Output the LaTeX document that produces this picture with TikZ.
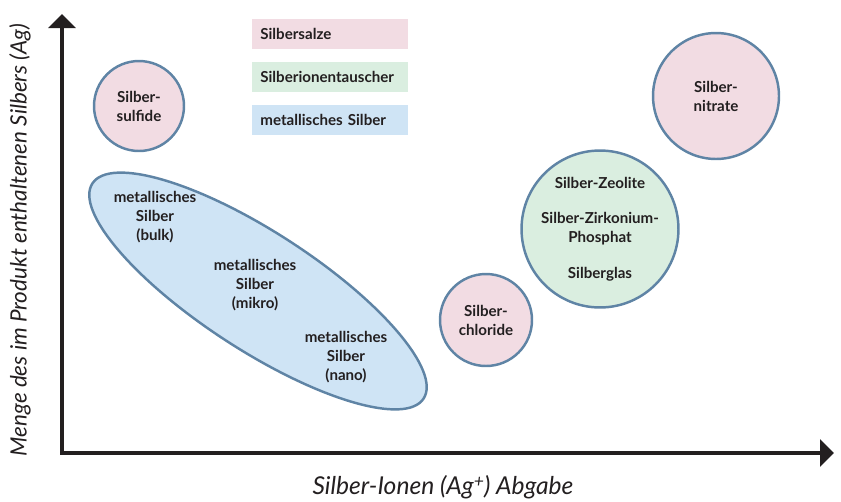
\documentclass[tikz,border=0pt]{standalone}
\usepackage{fontspec}
\setmainfont{Lato}
\usetikzlibrary{shapes.geometric,arrows.meta}
\definecolor{ink}{HTML}{231F20}
\definecolor{rand}{HTML}{5F84A5}
\definecolor{salze}{HTML}{F2DCE3}
\definecolor{tauscher}{HTML}{DAEEE0}
\definecolor{metall}{HTML}{CFE4F5}
\tikzset{
  axis/.style={draw=ink, line width=2.8pt,
    {Triangle[length=0.28cm,width=0.54cm]}-{Triangle[length=0.28cm,width=0.54cm]}},
  blob/.style={circle, draw=rand, line width=1.4pt, inner sep=0pt,
    align=center, text=ink, font=\bfseries\fontsize{8.6}{10.8}\selectfont},
  label/.style={align=center, text=ink, font=\bfseries\fontsize{8.6}{10.8}\selectfont},
  legendbox/.style={rectangle, anchor=west, minimum width=3.12cm, minimum height=0.6cm,
    text width=2.8cm, inner xsep=0.16cm, align=left, text=ink,
    font=\bfseries\fontsize{8.6}{10.8}\selectfont},
  axislabel/.style={text=ink, font=\itshape\fontsize{12.8}{15}\selectfont}
}
\begin{document}
\begin{tikzpicture}[x=0.02cm, y=-0.02cm]
  \useasboundingbox (0,0) rectangle (841,501);

  % axes
  \coordinate (origin) at (62,453);
  \coordinate (ytip) at (62,14);
  \coordinate (xtip) at (834,453);
  \draw[axis] (ytip) -- (origin) -- (xtip);
  \node[axislabel, rotate=90] (ylabel) at (20,240) {Menge des im Produkt enthaltenen Silbers (Ag)};
  \node[axislabel, font=\itshape\fontsize{14}{16}\selectfont] (xlabel) at (443,487)
    {Silber-Ionen (Ag\raisebox{0.55ex}{\fontsize{10}{10}\selectfont +}) Abgabe};

  % legend
  \node[legendbox, fill=salze] (leg-salze) at (252,34) {Silbersalze};
  \node[legendbox, fill=tauscher] (leg-tauscher) at (252,76.5) {Silberionentauscher};
  \node[legendbox, fill=metall] (leg-metall) at (252,120) {metallisches Silber};

  % groups
  \node[blob, fill=salze, minimum size=1.8cm] (sulfid) at (139,106) {Silber-\\sulfide};
  \node[blob, fill=salze, minimum size=2.52cm] (nitrat) at (716,96) {Silber-\\nitrate};
  \node[blob, fill=salze, minimum size=1.84cm] (chlorid) at (486,320) {Silber-\\chloride};
  \node[blob, fill=tauscher, minimum size=3.08cm] (zeolith) at (600,229)
    {Silber-Zeolite\\[9.5pt]Silber-Zirkonium-\\Phosphat\\[9.5pt]Silberglas};
  \node[ellipse, draw=rand, line width=1.4pt, fill=metall, inner sep=0pt,
    minimum width=7.9cm, minimum height=2.36cm, rotate=-33] (metall) at (258,291) {};
  \node[label] (bulk) at (155,217) {metallisches\\Silber\\(bulk)};
  \node[label] (mikro) at (255,285) {metallisches\\Silber\\(mikro)};
  \node[label] (nano) at (346,357) {metallisches\\Silber\\(nano)};
\end{tikzpicture}
\end{document}
